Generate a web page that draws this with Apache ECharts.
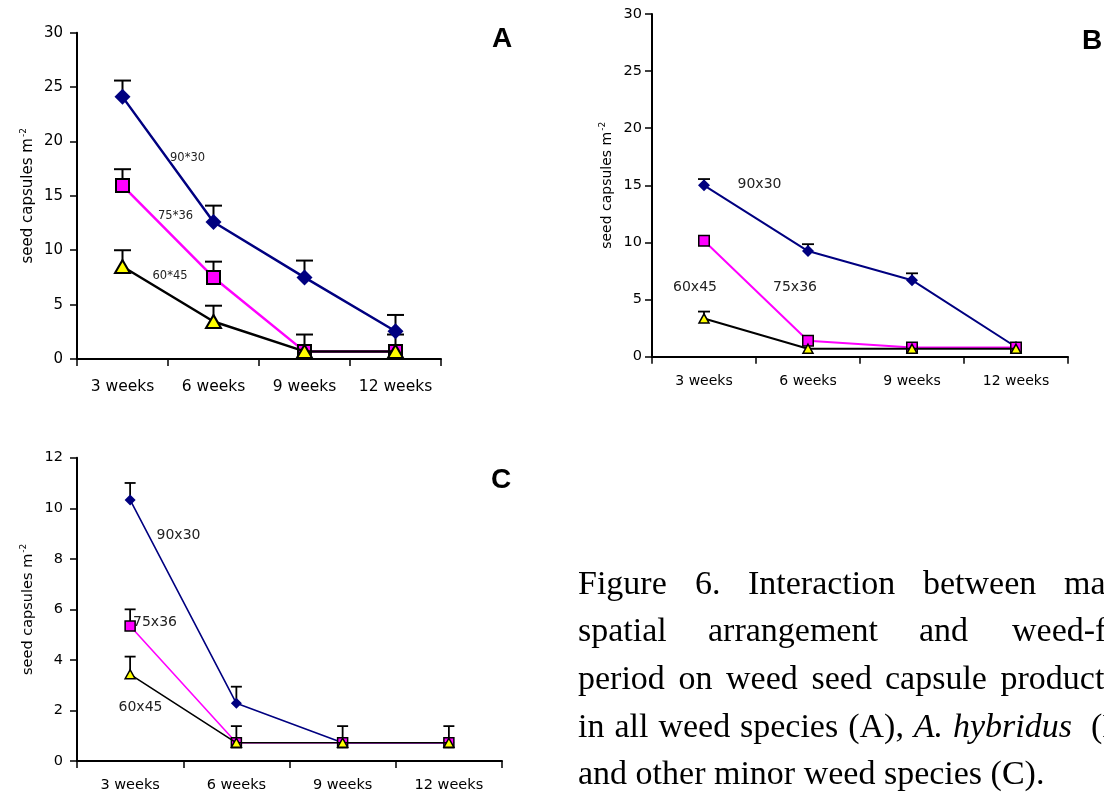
<!DOCTYPE html>
<html>
<head>
<meta charset="utf-8">
<script src="https://cdn.jsdelivr.net/npm/echarts@6/dist/echarts.min.js"></script>
<style>
html,body{margin:0;padding:0;background:#fff;}
#chart{width:1104px;height:795px;}
</style>
</head>
<body>
<div id="chart"></div>
<script>
// ---- data ----
const weeks = ['3 weeks', '6 weeks', '9 weeks', '12 weeks'];
const seriesNames = ['90x30', '75x36', '60x45'];
const labelsA = ['90*30', '75*36', '60*45'];
const labelsBC = ['90x30', '75x36', '60x45'];

// Panel A: all weed species
const A_90x30 = [24.1, 12.6, 7.5, 2.55];
const A_90x30_top = [25.6, 14.1, 9.05, 4.05];
const A_75x36 = [15.95, 7.5, 0.7, 0.7];
const A_75x36_top = [17.45, 8.95, 2.25, 2.25];
const A_60x45 = [8.5, 3.45, 0.7, 0.7];
const A_60x45_top = [10.0, 4.9, null, null];

// Panel B: A. hybridus
const B_90x30 = [15.0, 9.25, 6.7, 0.85];
const B_90x30_top = [15.55, 9.85, 7.3, null];
const B_75x36 = [10.15, 1.4, 0.8, 0.8];
const B_75x36_top = [10.45, null, null, null];
const B_60x45 = [3.35, 0.7, 0.7, 0.7];
const B_60x45_top = [3.95, null, null, null];

// Panel C: other minor weed species
const C_90x30 = [10.33, 2.28, 0.72, 0.72];
const C_90x30_top = [11.0, 2.94, 1.38, 1.38];
const C_75x36 = [5.34, 0.72, 0.72, 0.72];
const C_75x36_top = [6.0, null, null, null];
const C_60x45 = [3.43, 0.72, 0.72, 0.72];
const C_60x45_top = [4.13, 1.38, null, null];

const yTicksA = {min: 0, max: 30, interval: 5};
const yTicksB = {min: 0, max: 30, interval: 5};
const yTicksC = {min: 0, max: 12, interval: 2};

// ---- styling ----
const FONT = 'DejaVu Sans';
const NAVY = '#000080', MAGENTA = '#FF00FF', YELLOW = '#FFFF00';

const panels = [
  {grid: {left: 77, top: 32.7, width: 364, height: 326.3}, y: yTicksA,
   vals: [A_90x30, A_75x36, A_60x45], tops: [A_90x30_top, A_75x36_top, A_60x45_top],
   lw: 2.5, sym: [[16,16],[13,13],[15,13]], bw: 2, cap: 8.5, ew: 2,
   tick: 15, xFont: 15.5, yMargin: 14, xMargin: 20, nameGap: 40, nameFont: 15},
  {grid: {left: 652, top: 14, width: 416, height: 342.7}, y: yTicksB,
   vals: [B_90x30, B_75x36, B_60x45], tops: [B_90x30_top, B_75x36_top, B_60x45_top],
   lw: 2, sym: [[12,12],[10.5,10.5],[10,9]], bw: 1.5, cap: 6, ew: 1.8,
   tick: 14.5, xFont: 14, yMargin: 10, xMargin: 18, nameGap: 36, nameFont: 14},
  {grid: {left: 77, top: 457.7, width: 425, height: 303.3}, y: yTicksC,
   vals: [C_90x30, C_75x36, C_60x45], tops: [C_90x30_top, C_75x36_top, C_60x45_top],
   lw: 1.6, sym: [[11,11],[10,10],[10,9]], bw: 1.5, cap: 5.5, ew: 1.8,
   tick: 14.5, xFont: 14.5, yMargin: 14, xMargin: 17, nameGap: 40, nameFont: 14.5}
];

const grid = [], xAxis = [], yAxis = [], series = [];
panels.forEach((p, i) => {
  grid.push(Object.assign({containLabel: false}, p.grid));
  xAxis.push({
    type: 'category', gridIndex: i, data: weeks, boundaryGap: true,
    axisLine: {lineStyle: {color: '#000', width: 2}},
    axisTick: {show: true, length: 7, inside: false, lineStyle: {color: '#000', width: 1.5}},
    axisLabel: {color: '#000', fontFamily: FONT, fontSize: p.xFont, margin: p.xMargin, interval: 0},
    splitLine: {show: false}
  });
  yAxis.push({
    type: 'value', gridIndex: i, min: p.y.min, max: p.y.max, interval: p.y.interval,
    axisLine: {show: true, lineStyle: {color: '#000', width: 2}},
    axisTick: {show: true, length: 7, inside: false, lineStyle: {color: '#000', width: 1.5}},
    axisLabel: {color: '#000', fontFamily: FONT, fontSize: p.tick, margin: p.yMargin},
    splitLine: {show: false},
    name: 'seed capsules m{sup|-2}',
    nameLocation: 'middle', nameRotate: 90, nameGap: p.nameGap,
    nameTextStyle: {color: '#000', fontFamily: FONT, fontSize: p.nameFont,
      rich: {sup: {fontFamily: FONT, fontSize: 9, color: '#000', verticalAlign: 'top', padding: [0, 0, 9, 1]}}}
  });
  const colors = [NAVY, MAGENTA, '#000'];
  const symbols = ['diamond', 'rect', 'triangle'];
  const fills = [NAVY, MAGENTA, YELLOW];
  // error bars
  p.tops.forEach((tops, s) => {
    const d = [];
    tops.forEach((t, k) => { if (t != null) d.push([k, p.vals[s][k], t]); });
    series.push({
      type: 'custom', xAxisIndex: i, yAxisIndex: i, z: 1, silent: true,
      data: d,
      renderItem: (params, api) => {
        const p0 = api.coord([api.value(0), api.value(1)]);
        const p1 = api.coord([api.value(0), api.value(2)]);
        return {type: 'group', children: [
          {type: 'line', shape: {x1: p0[0], y1: p0[1], x2: p1[0], y2: p1[1]}, style: {stroke: '#000', lineWidth: p.ew}},
          {type: 'line', shape: {x1: p1[0] - p.cap, y1: p1[1], x2: p1[0] + p.cap, y2: p1[1]}, style: {stroke: '#000', lineWidth: p.ew}}
        ]};
      }
    });
  });
  p.vals.forEach((v, s) => {
    series.push({
      type: 'line', name: seriesNames[s], xAxisIndex: i, yAxisIndex: i, data: v, z: 3 + s,
      symbol: symbols[s], symbolSize: p.sym[s], showAllSymbol: true,
      lineStyle: {color: colors[s], width: p.lw},
      itemStyle: {color: fills[s], borderColor: s === 0 ? NAVY : '#000', borderWidth: s === 0 ? 0 : p.bw},
      emphasis: {disabled: true}
    });
  });
});

function txt(x, y, text, size, opts) {
  return Object.assign({
    type: 'text', x: x, y: y, silent: true,
    style: Object.assign({text: text, fill: '#000', font: size + 'px ' + FONT, align: 'center', verticalAlign: 'middle'}, opts || {})
  });
}

const CS = 34;
function cap(x, y, text, italic) {
  const st = {text: text, fill: '#000', fontFamily: 'Liberation Serif', fontSize: CS, align: 'left', verticalAlign: 'middle'};
  if (italic) st.fontStyle = 'italic';
  return {type: 'text', x: x, y: y, silent: true, style: st};
}

const graphic = [
  // series labels A
  txt(187.5, 158, labelsA[0], 11.5, {fill: '#222'}),
  txt(175.5, 216, labelsA[1], 11.5, {fill: '#222'}),
  txt(170, 276, labelsA[2], 11.5, {fill: '#222'}),
  // B
  txt(759.5, 184, labelsBC[0], 14, {fill: '#222'}),
  txt(795, 287, labelsBC[1], 14, {fill: '#222'}),
  txt(695, 287, labelsBC[2], 14, {fill: '#222'}),
  // C
  txt(178.5, 535, labelsBC[0], 14, {fill: '#222'}),
  txt(155, 622, labelsBC[1], 14, {fill: '#222'}),
  txt(140.5, 707, labelsBC[2], 14, {fill: '#222'}),
  // panel letters
  {type: 'text', x: 502, y: 39, silent: true, style: {text: 'A', fill: '#000', font: 'bold 28px "Liberation Sans"', align: 'center', verticalAlign: 'middle'}},
  {type: 'text', x: 1092, y: 41, silent: true, style: {text: 'B', fill: '#000', font: 'bold 28px "Liberation Sans"', align: 'center', verticalAlign: 'middle'}},
  {type: 'text', x: 501, y: 480, silent: true, style: {text: 'C', fill: '#000', font: 'bold 28px "Liberation Sans"', align: 'center', verticalAlign: 'middle'}},
  // caption line 1 (justified)
  cap(578, 584.6, 'Figure'), cap(695, 584.6, '6.'), cap(748, 584.6, 'Interaction'),
  cap(923, 584.6, 'between'), cap(1064, 584.6, 'maize'),
  // line 2
  cap(578, 631.6, 'spatial'), cap(708, 631.6, 'arrangement'), cap(919, 631.6, 'and'), cap(1012, 631.6, 'weed-free'),
  // line 3
  cap(578, 679.6, 'period'), cap(678.5, 679.6, 'on'), cap(726, 679.6, 'weed'), cap(811.5, 679.6, 'seed'),
  cap(885, 679.6, 'capsule'), cap(1000.5, 679.6, 'production'),
  // line 4
  cap(578, 727.6, 'in'), cap(614.4, 727.6, 'all'), cap(658.4, 727.6, 'weed'), cap(740, 727.6, 'species'),
  cap(848.2, 727.6, '(A),'), cap(913.8, 727.6, 'A.', true), cap(953, 727.6, 'hybridus', true), cap(1091, 727.6, '(B)'),
  // line 5
  cap(578, 774.6, 'and other minor weed species (C).')
];

const chart = echarts.init(document.getElementById('chart'), null, {renderer: 'canvas'});
chart.setOption({
  animation: false,
  backgroundColor: '#fff',
  textStyle: {fontFamily: FONT},
  grid: grid, xAxis: xAxis, yAxis: yAxis, series: series, graphic: graphic
});
</script>
</body>
</html>
